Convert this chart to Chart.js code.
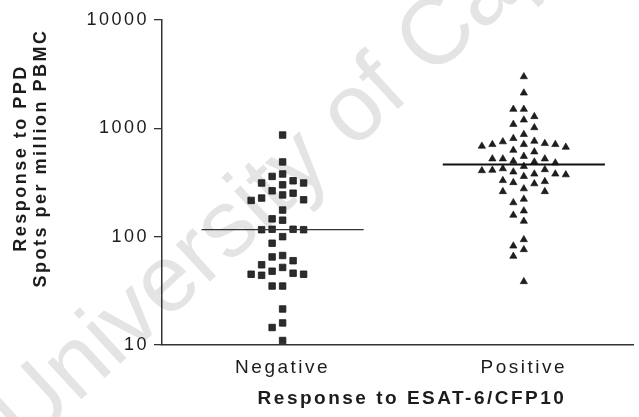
<!DOCTYPE html>
<html>
<head>
<meta charset="utf-8">
<script src="https://cdn.jsdelivr.net/npm/chart.js@4"></script>
<style>
  html, body { margin: 0; padding: 0; background: #fff; }
  canvas { display: block; }
</style>
</head>
<body>
<canvas id="chart" width="639" height="417"></canvas>
<script>
// Groups on the x axis
const categories = ['Negative', 'Positive'];

// PPD ELISpot responses (spots per million PBMC) for each ESAT-6/CFP10 group
const negativeValues = [867, 490, 379, 360, 328, 313, 313, 301, 265, 252,
                        243, 227, 219, 216, 176, 146, 142, 117, 117, 116,
                        116, 100, 87, 67, 65, 60, 55, 52, 48, 46,
                        45, 45, 44, 35, 35, 21.5, 16, 14.5, 11];
const positiveValues = [3000, 2120, 1500, 1500, 1285, 1195, 1090, 1015, 879, 807,
                        762, 752, 725, 710, 710, 710, 685, 670, 628, 607,
                        552, 523, 523, 523, 497, 490, 480, 446, 424, 416,
                        411, 407, 396, 379, 379, 373, 360, 330, 323, 316,
                        308, 277, 261, 261, 222, 206, 173, 158, 139, 94,
                        82, 76, 66, 38.5];

// Axis text
const yTicks = [10, 100, 1000, 10000];
const yTitleLines = ['Response to PPD', 'Spots per million PBMC'];
const xTitle = 'Response to ESAT-6/CFP10';
const watermarkText = 'University of Cape Town';

const FONT = '"Liberation Sans", Arial, Helvetica, sans-serif';
const SPACING = '2.5px';
const INK = '#1c1c1c';

// Column-style swarm: markers with nearly equal values step sideways.
const SLOT = 0.0435;     // sideways step, x units
const MIN_GAP = 0.09;    // vertical clearance in decades
const HALF_LINE = 0.336; // half width of the median bar, x units

function swarm(values, centre) {
  const placed = [];
  const pts = new Array(values.length);
  const order = values.map((v, i) => i).sort((a, b) => values[b] - values[a]);
  for (const i of order) {
    const ly = Math.log10(values[i]);
    for (let k = 0; ; k++) {
      const slot = k === 0 ? 0 : (k % 2 ? -(k + 1) / 2 : k / 2);
      if (!placed.some(p => p.slot === slot && Math.abs(p.ly - ly) < MIN_GAP)) {
        placed.push({ slot, ly });
        pts[i] = { x: centre + slot * SLOT, y: values[i] };
        break;
      }
    }
  }
  return pts;
}

function median(values) {
  const s = [...values].sort((a, b) => a - b);
  const m = Math.floor(s.length / 2);
  return s.length % 2 ? s[m] : (s[m - 1] + s[m]) / 2;
}

function medianBar(values, centre) {
  const m = median(values);
  return [{ x: centre - HALF_LINE, y: m }, { x: centre + HALF_LINE, y: m }];
}

const textStyle = {
  id: 'textStyle',
  beforeUpdate(chart) { chart.ctx.letterSpacing = SPACING; },
  beforeDraw(chart) {
    const ctx = chart.ctx;
    ctx.letterSpacing = SPACING;
    // faint diagonal repository watermark behind the plot
    ctx.save();
    ctx.letterSpacing = '0px';
    ctx.translate(26, 450);
    ctx.rotate(-42.5 * Math.PI / 180);
    ctx.font = '95px ' + FONT;
    ctx.fillStyle = '#e4e4e4';
    ctx.textBaseline = 'alphabetic';
    ctx.textAlign = 'left';
    ctx.fillText(watermarkText, 0, 0);
    ctx.restore();
  },
  afterDraw(chart) {
    const ctx = chart.ctx;
    const area = chart.chartArea;
    ctx.save();
    ctx.letterSpacing = SPACING;
    ctx.fillStyle = INK;
    ctx.textAlign = 'center';
    ctx.textBaseline = 'alphabetic';
    ctx.font = 'bold 19px ' + FONT;
    ctx.fillText(xTitle, area.left + 250, area.bottom + 59);
    ctx.font = 'bold 18px ' + FONT;
    yTitleLines.forEach((line, i) => {
      ctx.save();
      ctx.translate(26 + i * 20, area.top + 138);
      ctx.rotate(-Math.PI / 2);
      ctx.fillText(line, 0, 0);
      ctx.restore();
    });
    ctx.restore();
  }
};

new Chart(document.getElementById('chart'), {
  type: 'scatter',
  data: {
    datasets: [
      {
        label: categories[0],
        data: swarm(negativeValues, 1),
        pointStyle: 'rect',
        pointRadius: 4.6,
        backgroundColor: '#2c2c2c',
        borderColor: '#1a1a1a',
        borderWidth: 0.8,
        order: 2
      },
      {
        label: categories[1],
        data: swarm(positiveValues, 2),
        pointStyle: 'triangle',
        pointRadius: 4.2,
        backgroundColor: '#1e1e1e',
        borderColor: '#111',
        borderWidth: 0.6,
        order: 2
      },
      {
        type: 'line',
        label: 'Negative median',
        data: medianBar(negativeValues, 1),
        borderColor: '#333',
        borderWidth: 1.3,
        pointRadius: 0,
        order: 1
      },
      {
        type: 'line',
        label: 'Positive median',
        data: medianBar(positiveValues, 2),
        borderColor: '#111',
        borderWidth: 2,
        pointRadius: 0,
        order: 1
      }
    ]
  },
  options: {
    responsive: false,
    animation: false,
    devicePixelRatio: 1,
    layout: { padding: { top: 20, left: 0, right: 0, bottom: 0 } },
    plugins: { legend: { display: false }, tooltip: { enabled: false } },
    scales: {
      x: {
        type: 'linear',
        min: 0.5,
        max: 2.455,
        afterBuildTicks: s => { s.ticks = categories.map((c, i) => ({ value: i + 1 })); },
        afterFit: s => { s.height = 72; },
        ticks: {
          callback: v => categories[v - 1],
          font: { family: FONT, size: 19 },
          color: INK,
          padding: 11,
          maxRotation: 0,
          autoSkip: false
        },
        grid: { display: true, drawOnChartArea: false, drawTicks: false },
        border: { color: '#333', width: 1.5 }
      },
      y: {
        type: 'logarithmic',
        min: 10,
        max: 10000,
        afterBuildTicks: s => { s.ticks = yTicks.map(v => ({ value: v })); },
        afterFit: s => { s.width = 162; },
        ticks: {
          callback: v => String(v),
          font: { family: FONT, size: 18 },
          color: INK,
          padding: 5
        },
        grid: { drawOnChartArea: false, tickLength: 8, color: '#333', lineWidth: 1.3 },
        border: { color: '#333', width: 1.5 }
      }
    }
  },
  plugins: [textStyle]
});
</script>
</body>
</html>
